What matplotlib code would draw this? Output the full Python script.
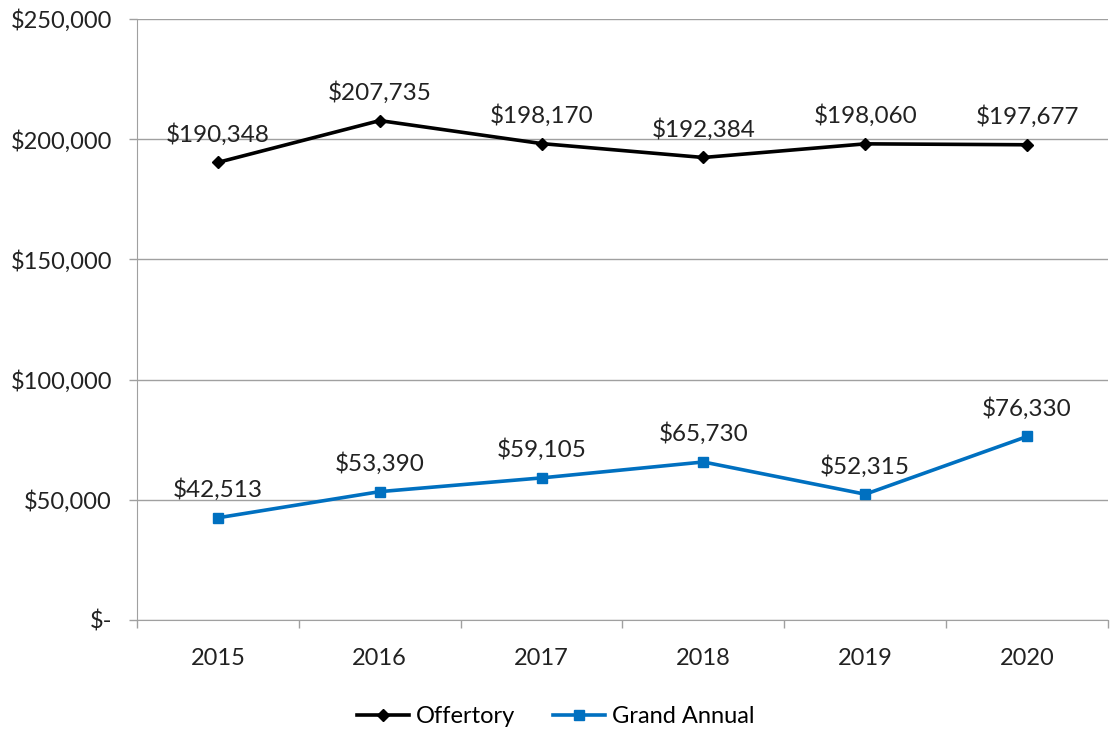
import matplotlib
matplotlib.use("Agg")
from matplotlib import pyplot as plt
from matplotlib.ticker import FuncFormatter

annees = ["2015", "2016", "2017", "2018", "2019", "2020"]
offertory = [190348, 207735, 198170, 192384, 198060, 197677]
grandAnnual = [42513, 53390, 59105, 65730, 52315, 76330]

plt.rcParams["font.family"] = ["Lato", "DejaVu Sans"]

fig = plt.figure(figsize=(11.12, 7.3), dpi=100)
ax = fig.add_axes([0.1232, 0.1507, 0.8732, 0.8233])

x = list(range(len(annees)))
ax.plot(x, offertory, "-D", color="black", lw=2.6, ms=6.5, label="Offertory")
ax.plot(x, grandAnnual, "-s", color="#0070C0", lw=2.6, ms=7, label="Grand Annual")

for i in x:
	ax.annotate(f"${offertory[i]:,}", (i, offertory[i]), xytext=(0, 12), textcoords="offset points",
		ha="center", va="bottom", fontsize=17.5, color="#222222")
	ax.annotate(f"${grandAnnual[i]:,}", (i, grandAnnual[i]), xytext=(0, 12), textcoords="offset points",
		ha="center", va="bottom", fontsize=17.5, color="#222222")

ax.set_xlim(-0.5, 5.5)
ax.set_ylim(0, 250000)
ax.set_yticks(range(0, 250001, 50000))
ax.yaxis.set_major_formatter(FuncFormatter(lambda v, p: "$-" if v == 0 else f"${int(v):,}"))
ax.set_xticks(x)
ax.set_xticklabels(annees)
ax.set_xticks([i - 0.5 for i in range(len(annees) + 1)], minor=True)
ax.tick_params(axis="x", which="major", length=0, pad=20, labelsize=17, labelcolor="#222222")
ax.tick_params(axis="x", which="minor", length=6, color="#a0a0a0", width=1)
ax.tick_params(axis="y", length=6, color="#a0a0a0", width=1, labelsize=17, labelcolor="#222222", pad=12)

ax.grid(axis="y", color="#a0a0a0", lw=1)
ax.set_axisbelow(True)
for s in ["top", "right"]:
	ax.spines[s].set_visible(False)
for s in ["left", "bottom"]:
	ax.spines[s].set_color("#a0a0a0")

fig.legend(loc="center", bbox_to_anchor=(0.5, 0.018), ncol=2, frameon=False, fontsize=17,
	handlelength=2.2, columnspacing=1.6, handletextpad=0.3)

fig.savefig("out.png")
